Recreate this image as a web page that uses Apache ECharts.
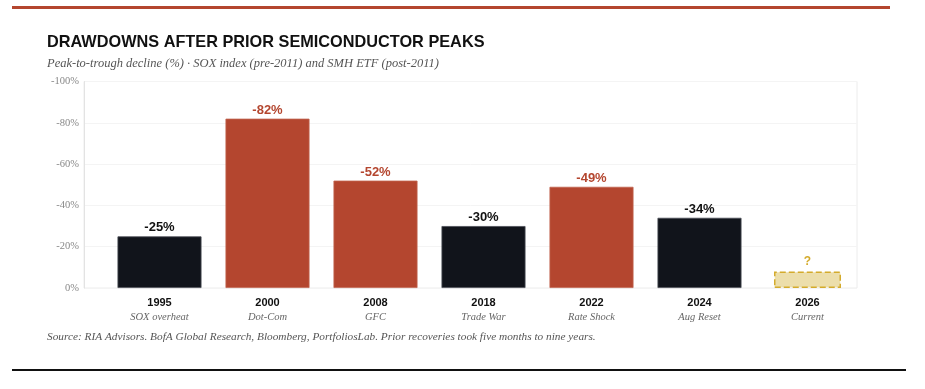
<!DOCTYPE html>
<html><head><meta charset="utf-8">
<script src="https://cdn.jsdelivr.net/npm/echarts@6/dist/echarts.min.js"></script>
<style>html,body{margin:0;padding:0;background:#fff}#c{width:925px;height:389px}</style>
</head><body><div id="c"></div>
<script>
const years = ['1995','2000','2008','2018','2022','2024','2026'];
const events = ['SOX overheat','Dot-Com','GFC','Trade War','Rate Shock','Aug Reset','Current'];
const drawdowns = [-25, -82, -52, -30, -49, -34, null];
const highlight = [false, true, true, false, true, false, false];
const placeholder = [null, null, null, null, null, null, -8];
const yTicks = [0, -20, -40, -60, -80, -100];

const BLACK = '#11141b', RED = '#b4462f', GOLD = '#d4ab2c';
const serif = '"Liberation Serif","DejaVu Serif",serif';
const sans = '"Liberation Sans",Arial,sans-serif';

const chart = echarts.init(document.getElementById('c'), null, {renderer:'canvas'});
const catLabels = years.map((y,i)=>y+'|'+events[i]);
chart.setOption({
  animation:false,
  backgroundColor:'#fff',
  title:[
    {text:'DRAWDOWNS AFTER PRIOR SEMICONDUCTOR PEAKS', left:47, top:35, padding:0,
     textStyle:{fontFamily:sans, fontSize:16.3, fontWeight:'bold', color:'#111'}},
    {text:'Peak-to-trough decline (%) · SOX index (pre-2011) and SMH ETF (post-2011)', left:47, top:57, padding:0,
     textStyle:{fontFamily:serif, fontStyle:'italic', fontSize:12.5, fontWeight:'normal', color:'#555'}},
    {text:'Source: RIA Advisors. BofA Global Research, Bloomberg, PortfoliosLab. Prior recoveries took five months to nine years.', left:47, top:332, padding:0,
     textStyle:{fontFamily:serif, fontStyle:'italic', fontSize:11.3, fontWeight:'normal', color:'#555'}}
  ],
  graphic:[
    {type:'rect', shape:{x:12,y:6,width:878,height:3}, style:{fill:'#b4462f'}},
    {type:'rect', shape:{x:12,y:369,width:894,height:2}, style:{fill:'#111'}}
  ],
  grid:[
    {left:84, right:68, top:81.5, bottom:101, show:true, borderColor:'#ececec', borderWidth:1, containLabel:false},
    {left:105.5, right:63.5, top:81.5, bottom:101, containLabel:false}
  ],
  xAxis:[
    {gridIndex:0, type:'value', min:0, max:1, show:false},
    {gridIndex:1, type:'category', data:catLabels,
     axisLine:{show:false}, axisTick:{show:false},
     axisLabel:{margin:8, interval:0, lineHeight:14,
       formatter:(v)=>{const p=v.split('|'); return '{y|'+p[0]+'}\n{s|'+p[1]+'}';},
       rich:{y:{fontFamily:sans, fontWeight:'bold', fontSize:11, color:'#111', lineHeight:14},
             s:{fontFamily:serif, fontStyle:'italic', fontSize:10.5, color:'#666', lineHeight:14}}}},
    {gridIndex:1, type:'category', data:catLabels, show:false}
  ],
  yAxis:[
    {gridIndex:0, type:'value', min:-100, max:0, interval:20, inverse:true,
     axisLine:{show:true, lineStyle:{color:'#e3e3e3'}}, axisTick:{show:false},
     splitLine:{show:true, lineStyle:{color:'#f4f4f4'}},
     axisLabel:{fontFamily:serif, fontSize:10.5, color:'#888', margin:5,
       formatter:(v)=> yTicks.indexOf(v)>=0 ? v+'%' : ''}},
    {gridIndex:1, type:'value', min:-100, max:0, inverse:true, show:false}
  ],
  series:[
    {type:'bar', xAxisIndex:1, yAxisIndex:1, barWidth:84,
     data: drawdowns.map((v,i)=>({value:v,
       itemStyle:{color: highlight[i]?RED:BLACK, borderColor: highlight[i]?'#c0634f':'#4a4d55', borderWidth:0.8},
       label:{color: highlight[i]?RED:'#111'}})),
     label:{show:true, position:'top', distance:2, fontFamily:sans, fontWeight:'bold', fontSize:13,
       formatter:(p)=>p.value+'%'}},
    {type:'bar', xAxisIndex:2, yAxisIndex:1, barWidth:67,
     data: placeholder,
     itemStyle:{color:'#ecdeab', borderColor:GOLD, borderWidth:1.5, borderType:'dashed'},
     label:{show:true, position:'top', distance:4, fontFamily:sans, fontWeight:'bold', fontSize:12, color:GOLD,
       formatter:()=>'?'}}
  ]
});
</script></body></html>
